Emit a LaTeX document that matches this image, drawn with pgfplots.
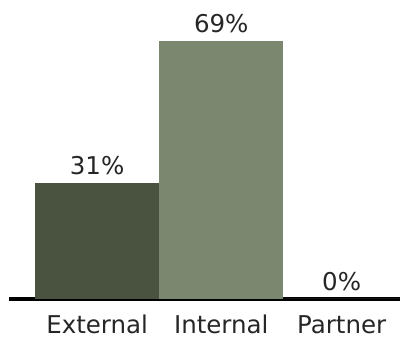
\documentclass[border=0pt]{standalone}
\usepackage{pgfplots}
\pgfplotsset{compat=1.18}
\usepackage{fontspec}
\setmainfont{DejaVu Sans}
\definecolor{darkolive}{HTML}{4A5240}
\definecolor{lightolive}{HTML}{7B876F}
\begin{document}
\begin{tikzpicture}
\begin{axis}[
  at={(9pt,39pt)}, anchor=south west,
  scale only axis, width=391pt, height=299pt,
  xmin=-0.71, xmax=2.44, ymin=0, ymax=80,
  ybar, bar width=124pt, bar shift=0pt,
  axis y line=none,
  axis x line*=bottom,
  x axis line style={-, line width=4pt, black},
  xtick={0,1,1.97}, xticklabels={External,Internal,Partner},
  major tick length=0pt,
  xticklabel style={anchor=base, yshift=-34.5pt, font=\fontsize{24.5}{28}\selectfont, text=black!85},
  clip=false,
  point meta=explicit symbolic,
  nodes near coords,
  every node near coord/.style={anchor=base, yshift=8.5pt, inner sep=0pt, font=\fontsize{24.5}{28}\selectfont, text=black!85},
]
\addplot[fill=darkolive, draw=none] coordinates {(0,31) [31\%]};
\addplot[fill=lightolive, draw=none] coordinates {(1,69) [69\%]};
\addplot[fill=lightolive, draw=none] coordinates {(1.97,0) [0\%]};
\end{axis}
\pgfresetboundingbox
\path (0,0) rectangle (400pt,338pt);
\end{tikzpicture}
\end{document}
